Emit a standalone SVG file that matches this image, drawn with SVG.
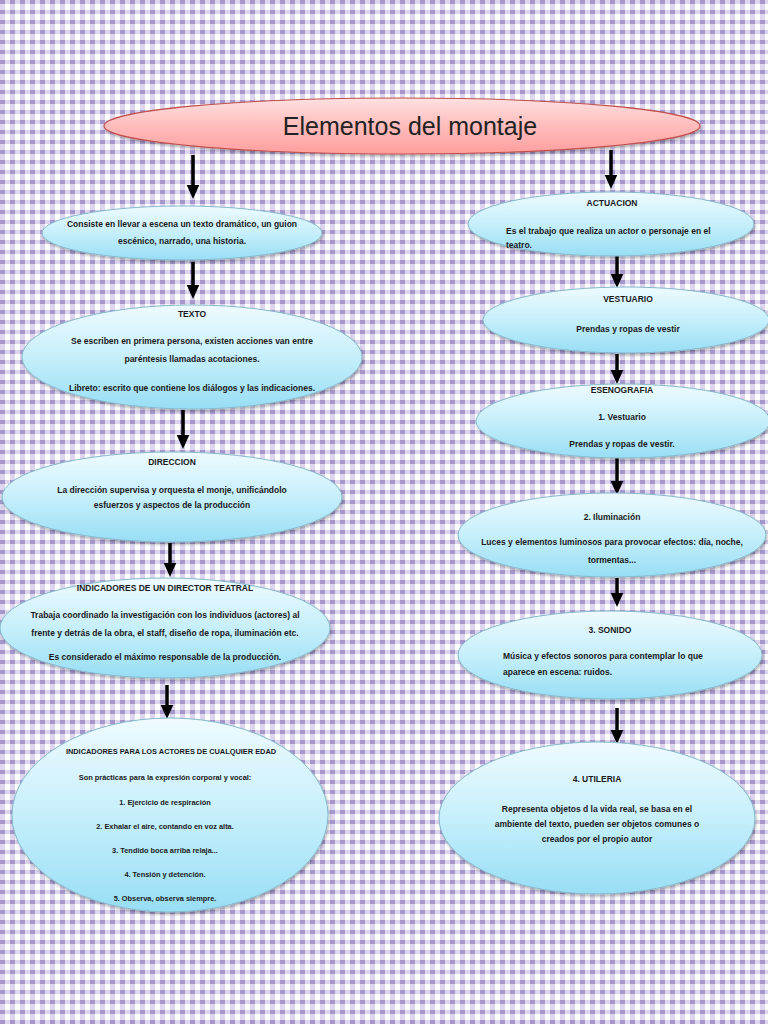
<svg xmlns="http://www.w3.org/2000/svg" width="768" height="1024" viewBox="0 0 768 1024">
<defs>
<pattern id="bg" width="10" height="10" patternUnits="userSpaceOnUse">
<rect width="10" height="10" fill="#ffffff"/>
<rect x="0" y="0" width="5" height="10" fill="#ddd6ee"/>
<rect x="0" y="0" width="10" height="4" fill="#ddd6ee"/>
<rect x="0" y="0" width="5" height="4" fill="#a597cc"/>
</pattern>
<linearGradient id="blue" x1="0" y1="0" x2="0" y2="1">
<stop offset="0" stop-color="#eefbff"/>
<stop offset="0.5" stop-color="#c6effb"/>
<stop offset="1" stop-color="#98def5"/>
</linearGradient>
<linearGradient id="pink" x1="0" y1="0" x2="0" y2="1">
<stop offset="0" stop-color="#ffe1e1"/>
<stop offset="0.5" stop-color="#ffbcbc"/>
<stop offset="1" stop-color="#ff9e9e"/>
</linearGradient>
<filter id="sh" x="-10%" y="-10%" width="120%" height="130%">
<feDropShadow dx="1" dy="2" stdDeviation="1.5" flood-color="#000" flood-opacity="0.3"/>
</filter>
<marker id="ah" markerWidth="4" markerHeight="4" refX="2" refY="2" orient="auto" markerUnits="strokeWidth">
<path d="M0,0.2 L4,2 L0,3.8 Z" fill="#000"/>
</marker>
</defs>
<style>
.node{fill:url(#blue);stroke:#86b9cc;stroke-width:1;filter:url(#sh)}
.t{font-family:"Liberation Sans",Arial,sans-serif;font-size:8.5px;font-weight:bold;fill:#1a1a1a;text-anchor:middle}
.s{font-size:7.4px}
.l{text-anchor:start}
.conn line{stroke:#000;stroke-width:3.5;marker-end:url(#ah)}
</style>
<rect width="768" height="1024" fill="url(#bg)"/>

<g id="title">
<ellipse cx="402" cy="126" rx="298" ry="28" fill="url(#pink)" stroke="#c0504d" stroke-width="1.2" filter="url(#sh)"/>
<text x="410" y="135" font-family="'Liberation Sans',Arial,sans-serif" font-size="25" fill="#222" text-anchor="middle">Elementos del montaje</text>
</g>

<g class="conn" id="connectors">
<line x1="193" y1="155" x2="193" y2="192"/>
<line x1="611" y1="150" x2="611" y2="182"/>
<line x1="193" y1="262" x2="193" y2="292"/>
<line x1="183" y1="410" x2="183" y2="442"/>
<line x1="170" y1="543" x2="170" y2="570"/>
<line x1="167" y1="685" x2="167" y2="712"/>
<line x1="617" y1="256" x2="617" y2="281"/>
<line x1="617" y1="354" x2="617" y2="377"/>
<line x1="617" y1="458" x2="617" y2="488"/>
<line x1="617" y1="578" x2="617" y2="600"/>
<line x1="617" y1="708" x2="617" y2="737"/>
</g>

<g id="n1">
<ellipse class="node" cx="182" cy="233" rx="140" ry="27"/>
<text class="t" x="182" y="227">Consiste en llevar a escena  un texto dramático, un guion</text>
<text class="t" x="182" y="244">escénico, narrado, una historia.</text>
</g>

<g id="texto">
<ellipse class="node" cx="192" cy="357" rx="170" ry="52"/>
<text class="t" x="192" y="317">TEXTO</text>
<text class="t" x="192" y="344">Se escriben en primera persona, existen acciones van entre</text>
<text class="t" x="192" y="362">paréntesis llamadas acotaciones.</text>
<text class="t" x="192" y="391">Libreto: escrito que contiene los diálogos y las indicaciones.</text>
</g>

<g id="direccion">
<ellipse class="node" cx="172" cy="497" rx="170" ry="45"/>
<text class="t" x="172" y="465">DIRECCION</text>
<text class="t" x="172" y="493">La dirección supervisa y orquesta el monje, unificándolo</text>
<text class="t" x="172" y="508">esfuerzos y aspectos de la producción</text>
</g>

<g id="director">
<ellipse class="node" cx="165" cy="628" rx="165" ry="50"/>
<text class="t" x="165" y="591">INDICADORES DE UN DIRECTOR TEATRAL</text>
<text class="t" x="165" y="618">Trabaja coordinado la investigación con los individuos (actores) al</text>
<text class="t" x="165" y="636">frente y detrás de la obra, el staff, diseño de ropa, iluminación etc.</text>
<text class="t" x="165" y="660">Es considerado el máximo responsable de la producción.</text>
</g>

<g id="actores">
<ellipse class="node" cx="170" cy="815" rx="158" ry="97"/>
<text class="t s" x="171" y="754">INDICADORES PARA LOS ACTORES DE CUALQUIER EDAD</text>
<text class="t s" x="165" y="780">Son prácticas para la expresión corporal y vocal:</text>
<text class="t s" x="165" y="805">1. Ejercicio de respiración</text>
<text class="t s" x="165" y="829">2. Exhalar el aire, contando en voz alta.</text>
<text class="t s" x="165" y="853">3. Tendido boca arriba relaja...</text>
<text class="t s" x="165" y="877">4. Tensión y detención.</text>
<text class="t s" x="165" y="901">5. Observa, observa siempre.</text>
</g>

<g id="actuacion">
<ellipse class="node" cx="611" cy="224" rx="143" ry="32"/>
<text class="t" x="612" y="206">ACTUACION</text>
<text class="t l" x="506" y="234">Es el trabajo que realiza un actor o personaje en el</text>
<text class="t l" x="506" y="248">teatro.</text>
</g>

<g id="vestuario">
<ellipse class="node" cx="626" cy="320" rx="143" ry="33"/>
<text class="t" x="628" y="302">VESTUARIO</text>
<text class="t" x="628" y="332" font-weight="normal">Prendas y ropas de vestir</text>
</g>

<g id="esenografia">
<ellipse class="node" cx="623" cy="421" rx="147" ry="37"/>
<text class="t" x="622" y="393">ESENOGRAFIA</text>
<text class="t" x="622" y="420" font-weight="normal">1. Vestuario</text>
<text class="t" x="622" y="447">Prendas y ropas de vestir.</text>
</g>

<g id="iluminacion">
<ellipse class="node" cx="612" cy="535" rx="154" ry="42"/>
<text class="t" x="612" y="520">2. Iluminación</text>
<text class="t" x="612" y="545">Luces y elementos luminosos para provocar efectos: día,  noche,</text>
<text class="t" x="612" y="563">tormentas...</text>
</g>

<g id="sonido">
<ellipse class="node" cx="610" cy="655" rx="152" ry="44"/>
<text class="t" x="610" y="633">3. SONIDO</text>
<text class="t l" x="503" y="659">Música y efectos sonoros para contemplar lo que</text>
<text class="t l" x="503" y="675">aparece en escena: ruidos.</text>
</g>

<g id="utileria">
<ellipse class="node" cx="597" cy="818" rx="158" ry="76"/>
<text class="t" x="597" y="782">4. UTILERIA</text>
<text class="t" x="597" y="812">Representa objetos d la vida real, se basa en el</text>
<text class="t" x="597" y="827">ambiente del texto, pueden ser objetos comunes o</text>
<text class="t" x="597" y="842">creados por el propio autor</text>
</g>
</svg>
